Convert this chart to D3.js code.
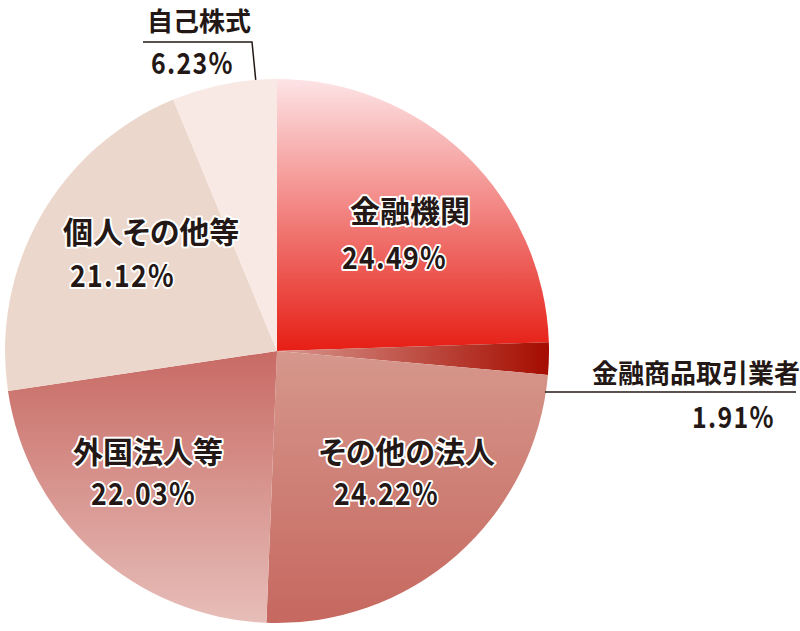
<!DOCTYPE html>
<html>
<head>
<meta charset="utf-8">
<script src="https://cdn.jsdelivr.net/npm/d3@7"></script>
<style>
  html, body { margin: 0; padding: 0; background: #fff; }
  svg { display: block; }
  text { font-family: "Noto Sans CJK JP", "Noto Sans", sans-serif; font-weight: 700; fill: #231815; font-feature-settings: "palt"; }
  .halo { stroke: #fff; stroke-width: 4px; stroke-linejoin: round; paint-order: stroke; }
</style>
</head>
<body>
<svg id="chart" width="800" height="631"></svg>
<script>
// holder categories, clockwise from 12 o'clock
const categories = ['金融機関', '金融商品取引業者', 'その他の法人', '外国法人等', '個人その他等', '自己株式'];
// share (%)
const shares = [24.49, 1.91, 24.22, 22.03, 21.12, 6.23];

// fills: [from, to, direction]
const fills = [
  ['#fde4e6', '#e61e15', 'v'],
  ['#d8968d', '#a50c00', 'h'],
  ['#d6978c', '#c6685f', 'v'],
  ['#c86a64', '#e7beb9', 'v'],
  ['#ebd7cc', '#ebd7cc', 'v'],
  ['#f8e9e5', '#f8e9e5', 'v'],
];

// label layout: name position, percent position, inside or outside
const labelLayout = [
  { nx: 350, ny: 222, px: 342, py: 269, inside: true },
  { nx: 592, ny: 383, px: 692, py: 428, inside: false },
  { nx: 319, ny: 463, px: 334, py: 505, inside: true },
  { nx: 73,  ny: 463, px: 91,  py: 505, inside: true },
  { nx: 63,  ny: 243, px: 70,  py: 287, inside: true },
  { nx: 147, ny: 31,  px: 151, py: 74,  inside: false },
];

const cx = 277, cy = 351, radius = 272;

const svg = d3.select('#chart');
const defs = svg.append('defs');

fills.forEach(([c0, c1, dir], i) => {
  const g = defs.append('linearGradient')
    .attr('id', `grad${i}`)
    .attr('x1', 0).attr('y1', 0)
    .attr('x2', dir === 'h' ? 1 : 0)
    .attr('y2', dir === 'h' ? 0 : 1);
  g.append('stop').attr('offset', 0).attr('stop-color', c0);
  g.append('stop').attr('offset', 1).attr('stop-color', c1);
});

const pie = d3.pie().sort(null).value((d) => d)(shares);
const arc = d3.arc().innerRadius(0).outerRadius(radius);

const pieG = svg.append('g').attr('transform', `translate(${cx},${cy})`);

pieG.selectAll('path')
  .data(pie)
  .enter()
  .append('path')
  .attr('d', arc)
  .attr('fill', (d, i) => `url(#grad${i})`);

// point on the rim, t = 0..1 through the slice
const rimPoint = (d, t) => {
  const a = d.startAngle + (d.endAngle - d.startAngle) * t;
  return [cx + Math.sin(a) * radius, cy - Math.cos(a) * radius];
};

const line = d3.line();

// 金融商品取引業者: horizontal rule from the rim
const brokerPt = rimPoint(pie[1], 0.5);
svg.append('path')
  .attr('d', line([[brokerPt[0] - 4, 392], [796, 392]]))
  .attr('stroke', '#231815').attr('stroke-width', 1.5).attr('fill', 'none');

// 自己株式: rule above the percentage, bending down to the rim
const treasuryPt = rimPoint(pie[5], 0.8);
svg.append('path')
  .attr('d', line([[143, 42], [252, 42], treasuryPt]))
  .attr('stroke', '#231815').attr('stroke-width', 1.5).attr('fill', 'none');

const labels = svg.append('g');

labelLayout.forEach((l, i) => {
  const nameSize = l.inside ? 30 : 26;
  const pctSize = l.inside ? 31 : 29;
  labels.append('text')
    .attr('class', l.inside ? 'halo' : null)
    .attr('transform', `translate(${l.nx},${l.ny})`)
    .attr('font-size', nameSize)
    .text(categories[i]);
  labels.append('text')
    .attr('class', l.inside ? 'halo' : null)
    .attr('transform', `translate(${l.px},${l.py}) scale(0.86,1)`)
    .attr('font-size', pctSize)
    .attr('letter-spacing', 1.5)
    .text(`${shares[i].toFixed(2)}%`);
});
</script>
</body>
</html>
